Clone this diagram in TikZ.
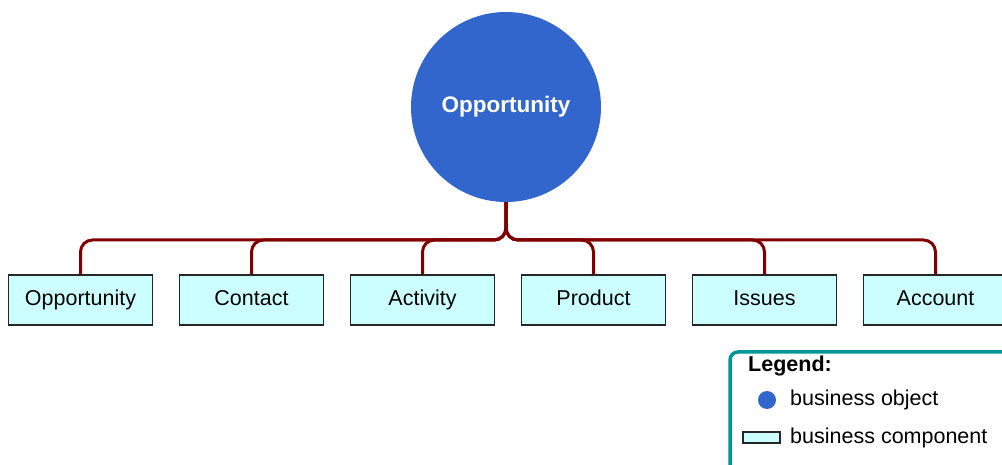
\documentclass[tikz,border=0pt]{standalone}
\usepackage{fontspec}
\setmainfont{Liberation Sans}
\definecolor{objblue}{RGB}{51,102,204}
\definecolor{compcyan}{RGB}{204,255,255}
\definecolor{linkred}{RGB}{128,0,0}
\definecolor{legendteal}{RGB}{0,150,150}
\begin{document}
\begin{tikzpicture}[x=1pt,y=1pt,
    bizobj/.style={circle, fill=objblue, minimum size=190pt, inner sep=0pt,
      text=white, font=\fontsize{22.5}{27}\selectfont\bfseries},
    bizcomp/.style={draw=black!85, line width=1.5pt, fill=compcyan,
      minimum width=144pt, minimum height=50pt, inner sep=0pt,
      text height=16pt, text depth=4pt, font=\fontsize{21.5}{26}\selectfont},
    link/.style={draw=linkred, line width=3pt, rounded corners=12pt},
    legtext/.style={anchor=west, inner sep=0pt, font=\fontsize{21.5}{26}\selectfont}]
  \clip (0,0) rectangle (1002,464);
  % business object
  \node[bizobj] (top) at (506,357) {Opportunity};
  % business components
  \node[bizcomp] (opp)  at (80.5,164)  {Opportunity};
  \node[bizcomp] (con)  at (251.5,164) {Contact};
  \node[bizcomp] (act)  at (422.5,164) {Activity};
  \node[bizcomp] (prod) at (593.5,164) {Product};
  \node[bizcomp] (iss)  at (764.5,164) {Issues};
  \node[bizcomp] (acc)  at (935.5,164) {Account};
  \coordinate (bus) at (0,224);
  \foreach \b in {opp,con,act,prod,iss,acc}
    \draw[link] (top.south) -- (top.south |- bus) -| (\b.north);
  % legend
  \draw[legendteal, line width=3.5pt, rounded corners=8pt] (730,112) rectangle (1020,-20);
  \node[legtext, font=\fontsize{21.5}{26}\selectfont\bfseries] (legtitle) at (748,98) {Legend:};
  \node[circle, fill=objblue, minimum size=18pt, inner sep=0pt] (legdot) at (767,64) {};
  \node[legtext] (legobj) at (790,64) {business object};
  \node[draw=black!85, line width=1.5pt, fill=compcyan, minimum width=37pt,
    minimum height=11pt, inner sep=0pt] (legbox) at (761.5,26.5) {};
  \node[legtext] (legcomp) at (790,26) {business component};
\end{tikzpicture}
\end{document}
